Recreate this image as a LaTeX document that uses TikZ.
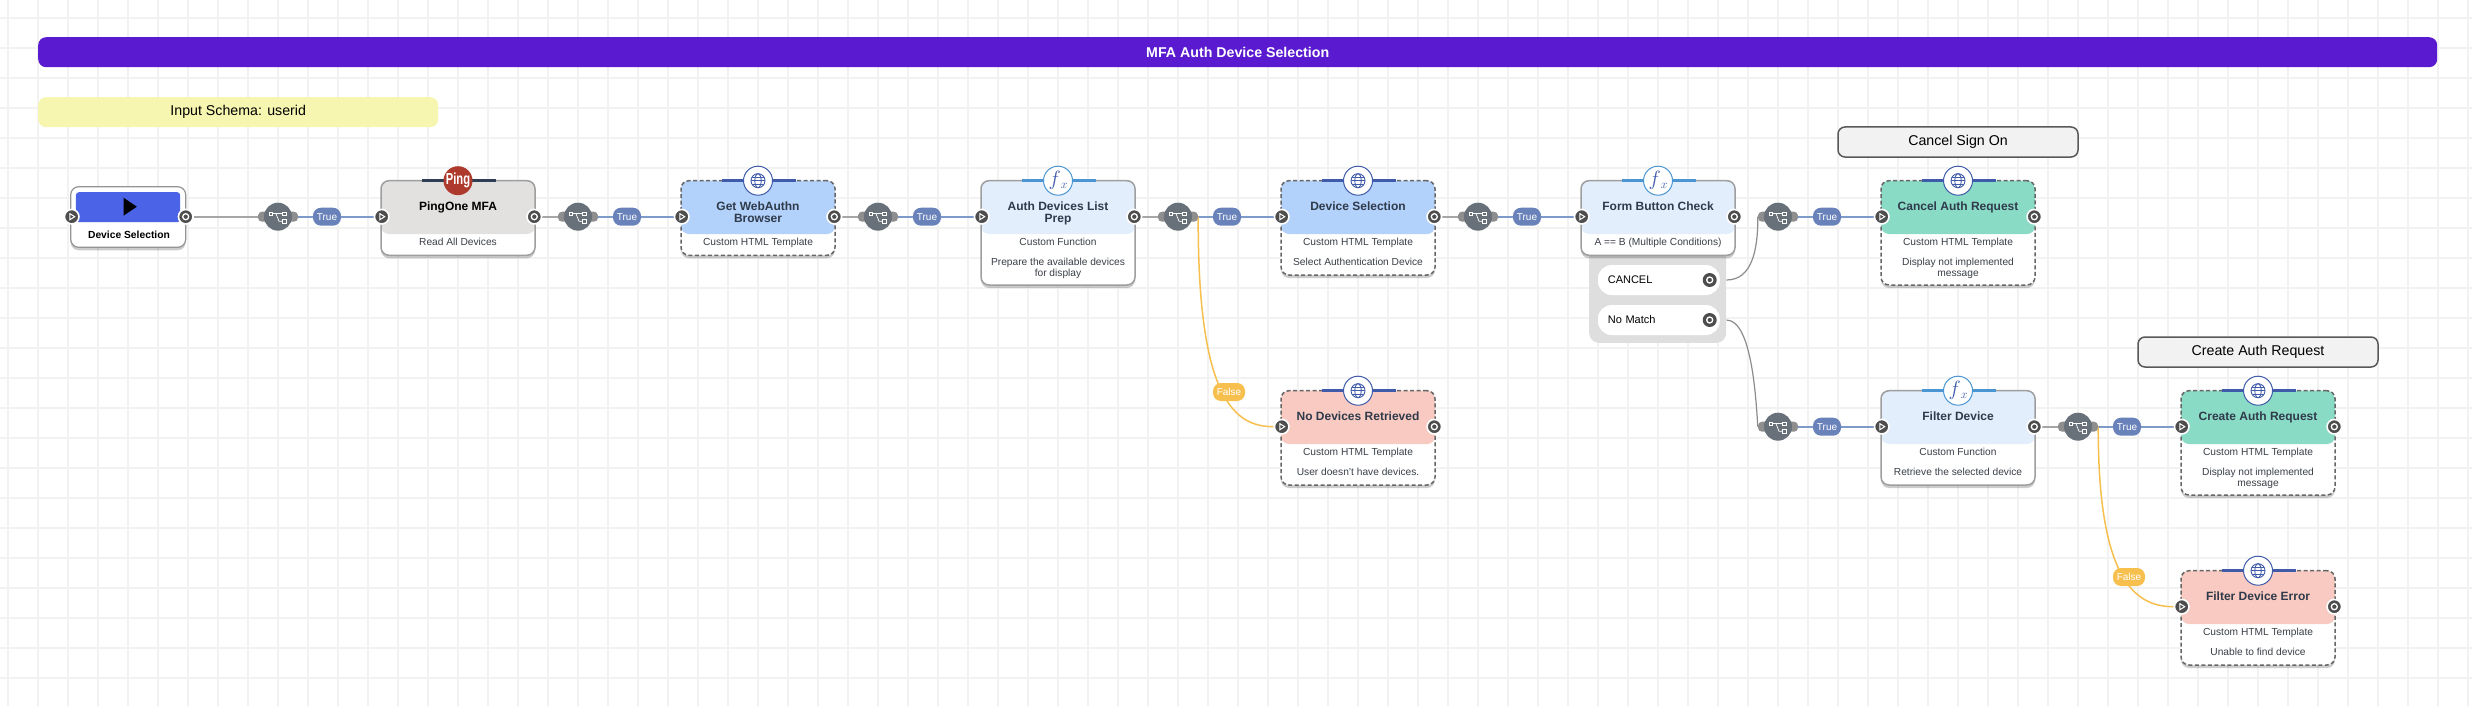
\documentclass[tikz,border=0pt]{standalone}
\usepackage{amsmath}
\usepackage{fontspec}
\usepackage{tikz}
\usetikzlibrary{shadows}
\setmainfont{Liberation Sans}
\definecolor{gridline}{HTML}{F2F2F2}
\definecolor{bannerviolet}{HTML}{5A1AD0}
\definecolor{noteyellow}{HTML}{F7F6B0}
\definecolor{headblue}{HTML}{B2D1FB}
\definecolor{headpale}{HTML}{E3EEFD}
\definecolor{headgreen}{HTML}{8ADBC6}
\definecolor{headred}{HTML}{F8CAC1}
\definecolor{headgrey}{HTML}{E2E1E0}
\definecolor{startblue}{HTML}{4B63E6}
\definecolor{webblue}{HTML}{3F5BA9}
\definecolor{fxblue}{HTML}{4A96D2}
\definecolor{pingred}{HTML}{AD3A2C}
\definecolor{pingnavy}{HTML}{2F3E54}
\definecolor{titleink}{HTML}{2F3A4A}
\definecolor{subink}{HTML}{3A3F47}
\definecolor{portdark}{HTML}{4D4D4D}
\definecolor{gatedark}{HTML}{68707A}
\definecolor{gatenub}{HTML}{8E8E8E}
\definecolor{wiregrey}{HTML}{A6A6A6}
\definecolor{wireblue}{HTML}{7E9ACB}
\definecolor{pillblue}{HTML}{6A82BA}
\definecolor{pillyellow}{HTML}{F7C04E}
\pgfdeclarelayer{gridlayer}
\pgfdeclarelayer{wirelayer}
\pgfsetlayers{gridlayer,wirelayer,main}
\tikzset{
	cardbase/.style={rectangle,rounded corners=8pt,minimum width=154pt,inner sep=0pt,outer sep=0pt,anchor=north west,fill=white,line width=1.5pt,drop shadow={fill=black,opacity=0.2,shadow xshift=0pt,shadow yshift=-3pt}},
	headfill/.style={path picture={\fill[#1] (path picture bounding box.north west) rectangle ([yshift=-53.3pt]path picture bounding box.north east);}},
	cardweb/.style={cardbase,draw=black!60,dash pattern=on 4pt off 2.5pt,headfill=headblue},
	cardfx/.style={cardbase,draw=black!38,headfill=headpale},
	cardping/.style={cardbase,draw=black!38,headfill=headgrey},
	cardgreen/.style={cardbase,draw=black!60,dash pattern=on 4pt off 2.5pt,headfill=headgreen},
	cardred/.style={cardbase,draw=black!60,dash pattern=on 4pt off 2.5pt,headfill=headred},
	iconbase/.style={circle,minimum size=29pt,inner sep=0pt,fill=white,line width=1pt},
	iconweb/.style={iconbase,draw=webblue,path picture={\begin{scope}[shift={(path picture bounding box.center)},webblue,line width=0.9pt]
		\draw (0,0) circle (7);
		\draw (0,0) ellipse [x radius=3.2,y radius=7];
		\draw (-7,0)--(7,0);
		\draw (-6,-3.5)--(6,-3.5);
		\draw (-6,3.5)--(6,3.5);
	\end{scope}}},
	iconfx/.style={iconbase,draw=fxblue,text=webblue,execute at begin node={\fontsize{20}{20}\selectfont$f$\raisebox{-2.5pt}{\fontsize{13}{13}\selectfont$x$}}},
	iconping/.style={iconbase,fill=pingred,text=white,execute at begin node={\scalebox{0.7}[1]{\fontsize{16}{16}\selectfont\bfseries Ping}}},
	barweb/.style={webblue,line width=3pt},
	barfx/.style={fxblue,line width=3pt},
	barping/.style={pingnavy,line width=3pt},
	cardtitle/.style={align=center,inner sep=0pt,anchor=north,text=titleink,font=\fontsize{12}{12}\selectfont\bfseries,execute at begin node=\strut},
	cardsub/.style={align=center,inner sep=0pt,anchor=north,text=subink,font=\fontsize{10.2}{10.3}\selectfont,execute at begin node=\strut},
	inport/.style={circle,minimum size=14.5pt,inner sep=0pt,fill=portdark,draw=white,line width=1.6pt,path picture={\draw[white,line width=1pt,shift={(path picture bounding box.center)}] (-1.8,-3)--(3,0)--(-1.8,3)--cycle;}},
	outport/.style={circle,minimum size=14.5pt,inner sep=0pt,fill=portdark,draw=white,line width=1.6pt,path picture={\draw[white,line width=1.3pt] (path picture bounding box.center) circle (3);}},
	gatedisc/.style={circle,minimum size=28pt,inner sep=0pt,fill=gatedark,path picture={\begin{scope}[shift={(path picture bounding box.center)},white,line width=0.7pt]
		\draw (-7,-3)--(6,-3);
		\draw (-2,-3)--(1,4.6)--(6,4.6);
		\fill[gatedark] (-8.7,-4.7) rectangle (-5.3,-1.3);
		\draw (-8.7,-4.7) rectangle (-5.3,-1.3);
		\fill[gatedark] (4.6,-4.4) rectangle (8,-1);
		\draw (4.6,-4.4) rectangle (8,-1);
		\fill[gatedark] (4.6,2.9) rectangle (8,6.3);
		\draw (4.6,2.9) rectangle (8,6.3);
	\end{scope}}},
	gatestub/.style={rectangle,rounded corners=4pt,minimum width=40pt,minimum height=10pt,inner sep=0pt,fill=gatenub},
	truepill/.style={rectangle,rounded corners=8pt,minimum width=28pt,minimum height=18pt,inner sep=0pt,fill=pillblue,text=white,font=\fontsize{10}{10}\selectfont},
	falsepill/.style={rectangle,rounded corners=8pt,minimum width=32pt,minimum height=18pt,inner sep=0pt,fill=pillyellow,text=white,font=\fontsize{10}{10}\selectfont},
	wirein/.style={wiregrey,line width=2pt},
	wireout/.style={wireblue,line width=2pt},
	wireno/.style={pillyellow,line width=1.5pt},
	wirechoice/.style={black!45,line width=1.2pt},
	stickynote/.style={rectangle,rounded corners=7pt,minimum width=240pt,minimum height=30pt,inner sep=0pt,fill=black!5,draw=black!65,line width=1.5pt,font=\fontsize{14.2}{14.2}\selectfont},
	choicepill/.style={rectangle,rounded corners=14pt,minimum width=122pt,minimum height=30pt,inner sep=0pt,fill=white,text width=102pt,align=left,font=\fontsize{11}{11}\selectfont},
	choiceport/.style={circle,minimum size=14pt,inner sep=0pt,fill=portdark,path picture={\draw[white,line width=1.3pt] (path picture bounding box.center) circle (3);}}
}
\newcommand{\card}[8]{
	\node[#5,minimum height=#4 pt] (#1) at (#2,#3) {};
	\draw[bar#6] (#2+41,#3)--(#2+115,#3);
	\node[icon#6] (#1icon) at (#2+77,#3) {};
	\node[cardtitle] (#1title) at (#2+77,#3+20.7) {#7};
	\node[cardsub] (#1sub) at (#2+77,#3+57.5) {#8};
	\node[inport] (#1in) at (#2+0.7,#3+36) {};
	\node[outport] (#1out) at (#2+153.3,#3+36) {};
}
\newcommand{\gate}[3]{
	\node[gatestub] (#1stub) at (#2,#3) {};
	\node[gatedisc] (#1) at (#2,#3) {};
}
\begin{document}
\begin{tikzpicture}[x=1pt,y=-1pt]
	\useasboundingbox (0,0) rectangle (2472,706);
	\begin{pgfonlayer}{gridlayer}
		\fill[white] (0,0) rectangle (2472,706);
		\foreach \gx in {8,38,...,2468} \draw[gridline,line width=1.5pt] (\gx,0)--(\gx,706);
		\foreach \gy in {18,48,...,678} \draw[gridline,line width=1.5pt] (0,\gy)--(2472,\gy);
	\end{pgfonlayer}

	\node[rectangle,rounded corners=8pt,anchor=north west,minimum width=2399pt,minimum height=30pt,inner sep=0pt,fill=bannerviolet,text=white,font=\fontsize{14.2}{14.2}\selectfont\bfseries] (banner) at (38,37) {MFA Auth Device Selection};
	\node[rectangle,rounded corners=8pt,anchor=north west,minimum width=400pt,minimum height=30pt,inner sep=0pt,fill=noteyellow,font=\fontsize{14.2}{14.2}\selectfont] (schemanote) at (38,97) {Input Schema: userid};

	\node[cardbase,draw=black!42,line width=1.2pt,minimum width=115pt,minimum height=60.6pt] (startcard) at (70.7,186.7) {};
	\node[rectangle,rounded corners=3pt,anchor=north west,minimum width=104.3pt,minimum height=30pt,inner sep=0pt,fill=startblue] (startblock) at (75.7,192) {};
	\fill[black] (123.5,197.7)--(136.8,206.7)--(123.5,215.7)--cycle;
	\node[inner sep=0pt,font=\fontsize{10.3}{10.3}\selectfont\bfseries] (starttitle) at (129,234.7) {Device Selection};
	\node[inport] (startin) at (71.7,216.7) {};
	\node[outport] (startout) at (185.7,216.7) {};

	\card{pingcard}{381}{180.7}{74.6}{cardping}{ping}{\textcolor{black}{PingOne MFA}}{Read All Devices}
	\card{browsercard}{681}{180.7}{74.6}{cardweb}{web}{Get WebAuthn\\Browser}{Custom HTML Template}
	\card{prepcard}{981}{180.7}{104.3}{cardfx}{fx}{Auth Devices List\\Prep}{Custom Function\\[9.7pt]Prepare the available devices\\for display}
	\card{selectcard}{1281}{180.7}{94.3}{cardweb}{web}{Device Selection}{Custom HTML Template\\[9.7pt]Select Authentication Device}
	\node[rectangle,rounded corners=10pt,anchor=north west,minimum width=137pt,minimum height=97.7pt,inner sep=0pt,fill=black!13] (choicepanel) at (1589,245) {};
	\card{formcard}{1581}{180.7}{74.6}{cardfx}{fx}{Form Button Check}{A == B (Multiple Conditions)}
	\node[choicepill] (choicecancel) at (1658.8,280) {CANCEL};
	\node[choicepill] (choicenomatch) at (1658.8,320) {No Match};
	\node[choiceport] (cancelport) at (1709.7,280) {};
	\node[choiceport] (nomatchport) at (1709.7,320) {};
	\card{cancelcard}{1881}{180.7}{104.3}{cardgreen}{web}{Cancel Auth Request}{Custom HTML Template\\[9.7pt]Display not implemented\\message}
	\card{nodevcard}{1281}{390.7}{94.3}{cardred}{web}{No Devices Retrieved}{Custom HTML Template\\[9.7pt]User doesn't have devices.}
	\card{filtercard}{1881}{390.7}{94.3}{cardfx}{fx}{Filter Device}{Custom Function\\[9.7pt]Retrieve the selected device}
	\card{createcard}{2181}{390.7}{104.3}{cardgreen}{web}{Create Auth Request}{Custom HTML Template\\[9.7pt]Display not implemented\\message}
	\card{errorcard}{2181}{570.7}{94.3}{cardred}{web}{Filter Device Error}{Custom HTML Template\\[9.7pt]Unable to find device}

	\node[stickynote] (cancelnote) at (1958,142) {Cancel Sign On};
	\node[stickynote] (createnote) at (2258,352) {Create Auth Request};

	\gate{gatea}{278}{216.7}
	\gate{gateb}{578}{216.7}
	\gate{gatec}{878}{216.7}
	\gate{gated}{1178}{216.7}
	\gate{gatee}{1478}{216.7}
	\gate{gatef}{1778}{216.7}
	\gate{gateg}{1778}{426.7}
	\gate{gateh}{2078}{426.7}

	\node[truepill] (truea) at (327,216.7) {True};
	\node[truepill] (trueb) at (627,216.7) {True};
	\node[truepill] (truec) at (927,216.7) {True};
	\node[truepill] (trued) at (1227,216.7) {True};
	\node[truepill] (truee) at (1527,216.7) {True};
	\node[truepill] (truef) at (1827,216.7) {True};
	\node[truepill] (trueg) at (1827,426.7) {True};
	\node[truepill] (trueh) at (2127,426.7) {True};
	\node[falsepill] (falsed) at (1229,392) {False};
	\node[falsepill] (falseh) at (2129,577) {False};

	\begin{pgfonlayer}{wirelayer}
		\draw[wirein] (startout)--(gatea);
		\draw[wireout] (gatea)--(truea)--(pingcardin);
		\draw[wirein] (pingcardout)--(gateb);
		\draw[wireout] (gateb)--(trueb)--(browsercardin);
		\draw[wirein] (browsercardout)--(gatec);
		\draw[wireout] (gatec)--(truec)--(prepcardin);
		\draw[wirein] (prepcardout)--(gated);
		\draw[wireout] (gated)--(trued)--(selectcardin);
		\draw[wirein] (selectcardout)--(gatee);
		\draw[wireout] (gatee)--(truee)--(formcardin);
		\draw[wireout] (gatef)--(truef)--(cancelcardin);
		\draw[wireout] (gateg)--(trueg)--(filtercardin);
		\draw[wirein] (filtercardout)--(gateh);
		\draw[wireout] (gateh)--(trueh)--(createcardin);
		\draw[wireno] (gatedstub.east) .. controls (1197.5,400) and (1235,426.7) .. (nodevcardin);
		\draw[wireno] (gatehstub.east) .. controls (2098,580) and (2135,606.7) .. (errorcardin);
		\draw[wirechoice] (choicepanel.east |- choicecancel) .. controls (1752,280) and (1758,250) .. (gatefstub.west);
		\draw[wirechoice] (choicepanel.east |- choicenomatch) .. controls (1752,320) and (1756,400) .. (gategstub.west);
	\end{pgfonlayer}
\end{tikzpicture}
\end{document}
